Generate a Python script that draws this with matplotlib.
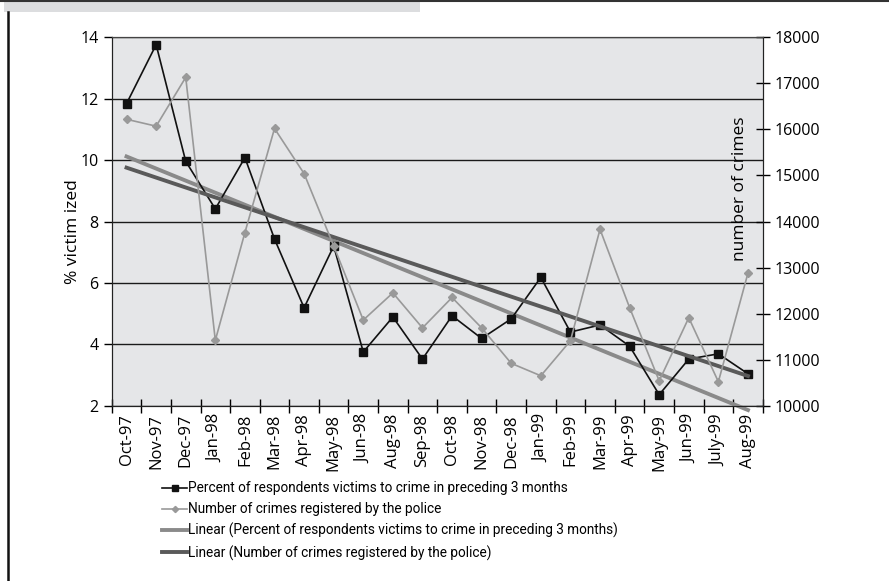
import numpy as np
import matplotlib.pyplot as plt
from matplotlib.patches import Rectangle
from matplotlib.lines import Line2D

months = ['Oct-97', 'Nov-97', 'Dec-97', 'Jan-98', 'Feb-98', 'Mar-98', 'Apr-98', 'May-98',
          'Jun-98', 'Aug-98', 'Sep-98', 'Oct-98', 'Nov-98', 'Dec-98', 'Jan-99', 'Feb-99',
          'Mar-99', 'Apr-99', 'May-99', 'Jun-99', 'July-99', 'Aug-99']
pct_victims = [11.84, 13.76, 9.96, 8.41, 10.08, 7.43, 5.19, 7.2, 3.75, 4.89, 3.52,
               4.93, 4.19, 4.83, 6.18, 4.4, 4.63, 3.94, 2.36, 3.52, 3.69, 3.04]
crimes = [16220, 16070, 17130, 11420, 13760, 16020, 15040, 13470, 11860, 12450, 11690,
          12350, 11690, 10920, 10650, 11410, 13830, 12130, 10540, 11910, 10520, 12880]

plt.rcParams['font.family'] = ['Open Sans', 'DejaVu Sans']

fig = plt.figure(figsize=(8.89, 5.81), dpi=100)

# decoration: top band + left rule
fig.add_artist(Line2D([0, 1], [0.999, 0.999], color='#333333', lw=1.5, transform=fig.transFigure))
fig.add_artist(Rectangle((0.004, 0.979), 0.468, 0.019, transform=fig.transFigure,
                         facecolor='#dcdddf', edgecolor='none'))
fig.add_artist(Line2D([0.009, 0.009], [0.0, 0.979], color='#111111', lw=1.8, transform=fig.transFigure))

ax = fig.add_axes([0.1257, 0.3017, 0.7323, 0.6341])
ax.set_facecolor('#e5e6e8')
x = np.arange(len(months))

ax.set_xlim(-0.5, len(months) - 0.5)
ax.set_ylim(2, 14)
ax.set_yticks(range(2, 15, 2))
ax.yaxis.grid(True, color='#1a1a1a', lw=1.0)
ax.set_axisbelow(True)

ax2 = ax.twinx()
ax2.set_ylim(10000, 18000)
ax2.set_yticks(range(10000, 18001, 1000))

l1, = ax.plot(x, pct_victims, color='#111111', lw=1.2, marker='s', ms=5.5, zorder=4)
l2, = ax2.plot(x, crimes, color='#999999', lw=1.2, marker='D', ms=4.5, zorder=3)

# linear trendlines
p1 = np.polyfit(x, pct_victims, 1)
p2 = np.polyfit(x, crimes, 1)
t1, = ax.plot(x, np.polyval(p1, x), color='#8a8a8a', lw=2.8, zorder=3, clip_on=False)
t2, = ax2.plot(x, np.polyval(p2, x), color='#5a5a5a', lw=2.8, zorder=2)

ax.set_xticks(x)
ax.set_xticklabels(months, rotation=90, fontsize=12)
ax.set_xticks(np.arange(-0.5, len(months)), minor=True)
ax.tick_params(axis='x', which='major', length=0, pad=6)
ax.tick_params(axis='x', which='minor', length=10, direction='inout', width=1)
ax.tick_params(axis='y', length=6, direction='out', width=1, labelsize=11.5)
ax2.tick_params(axis='y', length=10, direction='inout', width=1, labelsize=11.5)

for a in (ax, ax2):
    a.spines['top'].set_color('#444444')
    a.spines['left'].set_color('#222222')
    a.spines['right'].set_color('#222222')
    a.spines['bottom'].set_color('#222222')
ax2.patch.set_visible(False)

ax.text(-0.06, 0.474, '% victim ized', rotation=90, transform=ax.transAxes,
        ha='center', va='center', fontsize=12.5)
ax.text(0.965, 0.588, 'number of crimes', rotation=90, transform=ax.transAxes,
        ha='center', va='center', fontsize=12.5, zorder=6)

handles = [l1, l2, t1, t2]
labels = ['Percent of respondents victims to crime in preceding 3 months',
          'Number of crimes registered by the police',
          'Linear (Percent of respondents victims to crime in preceding 3 months)',
          'Linear (Number of crimes registered by the police)']
fig.legend(handles, labels, loc='upper left', bbox_to_anchor=(0.175, 0.183), frameon=False,
           handlelength=1.8, handletextpad=0.05, labelspacing=0.5, borderpad=0,
           markerscale=0.7, prop={'family': 'Roboto', 'size': 9.8})

fig.savefig('out.png', dpi=100)
